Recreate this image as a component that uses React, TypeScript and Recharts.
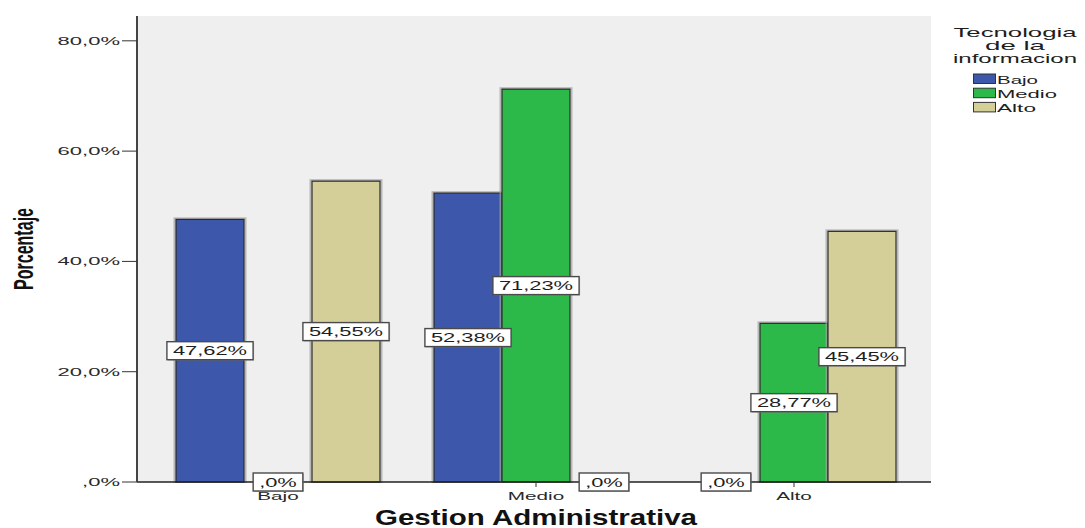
import React from 'react';
import { BarChart, Bar, XAxis, YAxis, CartesianGrid, LabelList } from 'recharts';

// Percentages of "Tecnologia de la informacion" levels within each "Gestion Administrativa" level
const categories = ['Bajo', 'Medio', 'Alto'];
const seriesNames = ['Bajo', 'Medio', 'Alto'];
const bajoValues = [47.62, 52.38, 0];
const medioValues = [0, 71.23, 28.77];
const altoValues = [54.55, 0, 45.45];
const yTicks = [0, 20, 40, 60, 80];
const legendTitle = ['Tecnologia', 'de la', 'informacion'];
const xTitle = 'Gestion Administrativa';
const yTitle = 'Porcentaje';

const colors = ['#3d57ab', '#2db84a', '#d4cf98'];

const data = categories.map((name, i) => ({
  name,
  Bajo: bajoValues[i],
  Medio: medioValues[i],
  Alto: altoValues[i],
}));

const FONT = '"Liberation Sans", Arial, sans-serif';

let measureCtx: CanvasRenderingContext2D | null = null;
function measure(text: string, font: string): number {
  if (!measureCtx) measureCtx = document.createElement('canvas').getContext('2d');
  if (!measureCtx) return text.length * 8;
  measureCtx.font = font;
  return measureCtx.measureText(text).width;
}

// Horizontally widened text, in the style of the SPSS output
function WideText(props: any) {
  const {
    x, y, text, size = 14, weight = 'normal', stretch = 1.5,
    anchor = 'middle', fill = '#1e1e1e', length, transform,
  } = props;
  const w = length ?? measure(text, `${weight} ${size}px "Liberation Sans"`) * stretch;
  return (
    <text
      x={x}
      y={y}
      textAnchor={anchor}
      fontFamily={FONT}
      fontSize={size}
      fontWeight={weight}
      fill={fill}
      textLength={w}
      lengthAdjust="spacingAndGlyphs"
      transform={transform}
    >
      {text}
    </text>
  );
}

const fmtPct = (v: number) => (v === 0 ? ',0%' : v.toFixed(2).replace('.', ',') + '%');
const fmtTick = (v: number) => (v === 0 ? ',0%' : v.toFixed(1).replace('.', ',') + '%');

function BarShape(props: any) {
  const { x, y, width, height, fill } = props;
  if (!height || height <= 0) return null;
  return (
    <g>
      <rect x={x - 1.5} y={y - 1} width={width + 3} height={height + 1} fill="none" stroke="#a0a0a0" strokeWidth={2} opacity={0.7} />
      <rect x={x} y={y} width={width} height={height} fill={fill} stroke="#2a2a2a" strokeWidth={1.2} />
    </g>
  );
}

function ValueLabel(props: any) {
  const vb = props.viewBox ?? props;
  const x = vb.x ?? props.x;
  const y = vb.y ?? props.y;
  const width = vb.width ?? props.width;
  const height = vb.height ?? props.height ?? 0;
  const value = Number(props.value);
  const cx = x + width / 2;
  const cy = y + height / 2;
  const text = fmtPct(value);
  const tw = measure(text, '12.5px "Liberation Sans"') * 1.75;
  const bw = tw + 12;
  const bh = 18;
  return (
    <g>
      <rect x={cx - bw / 2 + 1} y={cy - bh / 2 + 1} width={bw} height={bh} fill="#8a8a8a" opacity={0.5} />
      <rect x={cx - bw / 2} y={cy - bh / 2} width={bw} height={bh} fill="#ffffff" stroke="#4a4a4a" strokeWidth={1.4} />
      <WideText x={cx} y={cy + 4.5} text={text} size={12.5} length={tw} />
    </g>
  );
}

function YTick(props: any) {
  const { x, y, payload } = props;
  return <WideText x={x} y={y + 4} text={fmtTick(payload.value)} anchor="end" size={11} stretch={2.0} fill="#2a2a2a" />;
}

function XTick(props: any) {
  const { x, y, payload } = props;
  return <WideText x={x} y={y + 11} text={payload.value} size={11.5} stretch={1.8} fill="#2a2a2a" />;
}

function XTitle(props: any) {
  const vb = props.viewBox ?? { x: 137, y: 482, width: 794, height: 46 };
  return <WideText x={vb.x + vb.width / 2 + 2} y={vb.y + 43} text={xTitle} size={22} weight="bold" length={322} fill="#111" />;
}

function YTitle(props: any) {
  const vb = props.viewBox ?? { x: 0, y: 16, width: 137, height: 466 };
  const cy = vb.y + vb.height / 2;
  const bx = 33;
  return (
    <WideText
      x={bx}
      y={cy}
      text={yTitle}
      size={28}
      weight="bold"
      length={82}
      fill="#111"
      transform={`rotate(-90, ${bx}, ${cy})`}
    />
  );
}

function LegendBox() {
  const titleLens = [123, 60, 124];
  const itemLens = [41, 60, 39];
  return (
    <svg width={150} height={130} style={{ position: 'absolute', left: 935, top: 0 }}>
      {legendTitle.map((t, i) => (
        <WideText key={t} x={80} y={37 + i * 13} text={t} size={13} length={titleLens[i]} fill="#1e1e1e" />
      ))}
      {seriesNames.map((s, i) => (
        <g key={s}>
          <rect x={38.5} y={74 + i * 14.2} width={22} height={9.5} fill={colors[i]} stroke="#333" strokeWidth={1} />
          <WideText x={62} y={83.5 + i * 14.2} text={s} size={11} length={itemLens[i]} anchor="start" fill="#1e1e1e" />
        </g>
      ))}
    </svg>
  );
}

export default function App() {
  return (
    <div style={{ position: 'absolute', left: 0, top: 0, width: 1085, height: 528, background: '#ffffff' }}>
      <BarChart
        width={1085}
        height={528}
        data={data}
        margin={{ top: 16, right: 154, bottom: 0, left: 0 }}
        barGap={0}
        barSize={68}
      >
        <CartesianGrid fill="#efefef" horizontal={false} vertical={false} />
        <XAxis
          dataKey="name"
          height={46}
          padding={{ left: 12, right: 8 }}
          tickSize={5}
          tickMargin={2}
          tickLine={{ stroke: '#333' }}
          axisLine={{ stroke: '#222', strokeWidth: 1.3 }}
          tick={<XTick />}
          interval={0}
          label={<XTitle />}
        />
        <XAxis
          xAxisId="top"
          dataKey="name"
          orientation="top"
          height={0}
          tick={false}
          tickLine={false}
          axisLine={{ stroke: '#8a8a8a', strokeWidth: 1.6 }}
        />
        <YAxis
          width={137}
          domain={[0, 84.5]}
          ticks={yTicks}
          interval={0}
          tickSize={15}
          tickMargin={2}
          tickLine={{ stroke: '#333' }}
          axisLine={{ stroke: '#444', strokeWidth: 2 }}
          tick={<YTick />}
          label={<YTitle />}
        />
        <YAxis
          yAxisId="right"
          orientation="right"
          width={0}
          tick={false}
          tickLine={false}
          axisLine={{ stroke: '#8a8a8a', strokeWidth: 1.6 }}
        />
        {seriesNames.map((s, i) => (
          <Bar key={s} dataKey={s} fill={colors[i]} shape={<BarShape />} isAnimationActive={false}>
            <LabelList dataKey={s} content={<ValueLabel />} />
          </Bar>
        ))}
      </BarChart>
      <LegendBox />
    </div>
  );
}
